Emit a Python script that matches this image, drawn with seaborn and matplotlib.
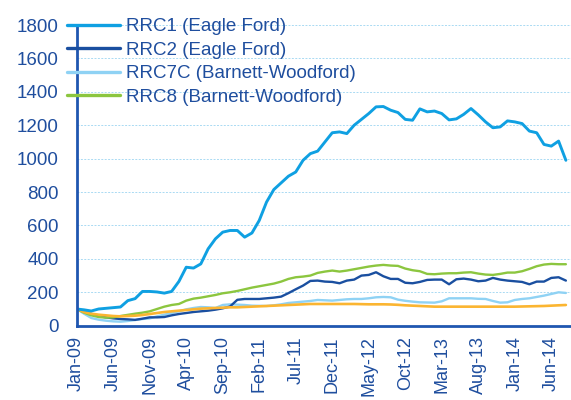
import numpy as np
import pandas as pd
import matplotlib
matplotlib.use("Agg")
import matplotlib.pyplot as plt
import seaborn as sns

# monthly index, Jan-09 = 100
tick_labels = ["Jan-09", "Jun-09", "Nov-09", "Apr-10", "Sep-10", "Feb-11", "Jul-11",
               "Dec-11", "May-12", "Oct-12", "Mar-13", "Aug-13", "Jan-14", "Jun-14"]

rrc1 = [100, 95, 88, 100, 104, 108, 112, 150, 162, 205,
        205, 202, 195, 205, 265, 350, 345, 370, 460, 520,
        560, 570, 570, 530, 555, 630, 740, 815, 855, 895,
        920, 990, 1030, 1045, 1100, 1155, 1160, 1150, 1200, 1235,
        1270, 1310, 1312, 1290, 1276, 1235, 1230, 1298, 1280, 1285,
        1270, 1232, 1238, 1265, 1300, 1262, 1220, 1185, 1190, 1226,
        1220, 1210, 1165, 1155, 1085, 1075, 1105, 990]

rrc2 = [100, 84, 70, 58, 50, 44, 40, 38, 35, 42,
        50, 50, 52, 62, 70, 76, 82, 86, 90, 96,
        104, 115, 155, 160, 160, 160, 164, 168, 174, 195,
        218, 240, 268, 270, 264, 262, 254, 270, 276, 300,
        304, 320, 296, 280, 280, 257, 254, 262, 274, 276,
        276, 248, 278, 282, 276, 266, 270, 286, 276, 270,
        266, 262, 248, 264, 264, 286, 290, 270]

rrc7c = [100, 72, 46, 36, 30, 26, 24, 28, 34, 40,
         44, 56, 66, 76, 86, 98, 106, 112, 110, 106,
         124, 128, 126, 124, 120, 119, 118, 122, 128, 136,
         140, 144, 148, 154, 152, 150, 154, 158, 160, 160,
         164, 170, 172, 170, 156, 149, 144, 140, 139, 138,
         146, 164, 164, 164, 164, 161, 160, 148, 138, 140,
         154, 160, 164, 172, 180, 190, 200, 196]

rrc8 = [100, 78, 62, 52, 48, 50, 58, 65, 72, 78,
        86, 100, 114, 124, 130, 150, 162, 168, 176, 184,
        194, 200, 208, 218, 228, 236, 244, 252, 264, 280,
        290, 294, 300, 316, 324, 330, 324, 330, 338, 346,
        354, 360, 364, 360, 358, 342, 332, 326, 310, 308,
        312, 314, 314, 318, 320, 312, 306, 304, 310, 318,
        318, 326, 340, 356, 366, 370, 368, 368]

other = [100, 82, 72, 66, 62, 58, 56, 58, 60, 64,
         70, 76, 82, 86, 90, 94, 98, 102, 104, 106,
         108, 110, 110, 112, 114, 116, 118, 120, 122, 124,
         126, 128, 130, 130, 130, 130, 130, 130, 130, 129,
         128, 128, 128, 127, 125, 122, 120, 118, 116, 114,
         114, 114, 114, 114, 114, 114, 114, 114, 114, 114,
         114, 115, 116, 117, 118, 120, 122, 124]

series = {
    "RRC7C (Barnett-Woodford)": (rrc7c, "#8FD2F4", 1.7),
    "RRC2 (Eagle Ford)": (rrc2, "#1A4FA0", 1.7),
    "RRC8 (Barnett-Woodford)": (rrc8, "#8CC63F", 1.7),
    "Other": (other, "#FBB531", 1.9),
    "RRC1 (Eagle Ford)": (rrc1, "#0FA0E2", 2.1),
}
legend_order = ["RRC1 (Eagle Ford)", "RRC2 (Eagle Ford)",
                "RRC7C (Barnett-Woodford)", "RRC8 (Barnett-Woodford)"]

sns.set_style("white")
plt.rcParams["font.family"] = ["Liberation Sans", "DejaVu Sans"]
text_blue = "#1F4E9E"
axis_blue = "#1F56B0"
fs = 13.5

fig = plt.figure(figsize=(5.71, 4.0), dpi=100)
ax = fig.add_axes([76.7 / 571, 74.3 / 400, (571 - 76.7) / 571, 300.7 / 400])

handles = {}
for name, (vals, color, lw) in series.items():
    df = pd.DataFrame({"month": np.arange(len(vals)), "value": vals})
    sns.lineplot(data=df, x="month", y="value", ax=ax, color=color,
                 linewidth=lw, label=name, legend=False)
    handles[name] = ax.get_lines()[-1]

ax.set_xlim(0, 67.7)
ax.set_ylim(0, 1800)
ax.set_yticks(range(0, 1801, 200))
ax.set_xticks(np.arange(0, 5 * len(tick_labels), 5))
ax.set_xticklabels(tick_labels, rotation=90)
ax.set_xlabel("")
ax.set_ylabel("")

ax.yaxis.grid(True, color="#A9DAF3", linestyle=(0, (2, 1.5)), linewidth=0.7)
ax.set_axisbelow(True)

for side in ["top", "right"]:
    ax.spines[side].set_visible(False)
for side in ["left", "bottom"]:
    ax.spines[side].set_color(axis_blue)
    ax.spines[side].set_linewidth(2.0)

ax.tick_params(axis="y", direction="out", length=5, width=1.8, color=axis_blue,
               labelcolor=text_blue, labelsize=fs, pad=8)
ax.tick_params(axis="x", direction="out", length=5, width=1.8, color=axis_blue,
               labelcolor=text_blue, labelsize=13, pad=2.5)

leg_handles = []
for name in legend_order:
    h = plt.Line2D([], [], color=handles[name].get_color(), linewidth=2.4)
    leg_handles.append(h)
leg = fig.legend(leg_handles, legend_order, loc="upper left",
                 bbox_to_anchor=(67 / 571, 1 - 18 / 400), frameon=False,
                 fontsize=fs, handlelength=2.8, handletextpad=0.32,
                 labelspacing=0.34, borderpad=0, borderaxespad=0)
for t in leg.get_texts():
    t.set_color(text_blue)

fig.savefig("out.png", dpi=100)
